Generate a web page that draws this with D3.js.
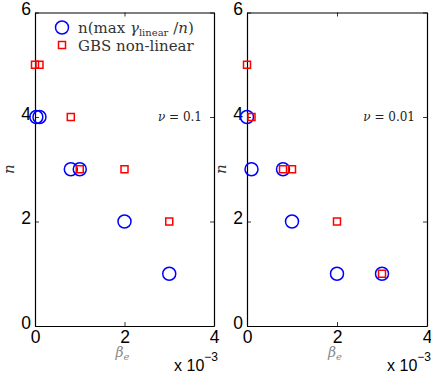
<!DOCTYPE html>
<html>
<head>
<meta charset="utf-8">
<script src="https://cdn.jsdelivr.net/npm/d3@7"></script>
<style>
  body { margin: 0; background: #fff; }
  svg { display: block; }
</style>
</head>
<body>
<div class="chart"></div>
<script>
var svgWidth = 431;
var svgHeight = 373;

// data, beta_e in units of 1e-3
var nu = ["0.1", "0.01"];
var linBeta = [[0.03, 0.1, 0.8, 1.0, 2.0, 3.0], [0.0, 0.1, 0.8, 1.0, 2.0, 3.0]];
var linN = [[4, 4, 3, 3, 2, 1], [4, 3, 3, 2, 1, 1]];
var gbsBeta = [[0.0, 0.1, 0.8, 1.0, 2.0, 3.0], [0.0, 0.1, 0.8, 1.0, 2.0, 3.0]];
var gbsN = [[5, 5, 4, 3, 3, 2], [5, 4, 3, 3, 2, 1]];
var xTicks = [0, 2, 4];
var yTicks = [0, 2, 4, 6];

var panels = [
  { left: 35, right: 214 },
  { left: 247, right: 427 }
];
var plotTop = 12.5, plotBottom = 326;

var svg = d3.select(".chart")
  .append("svg")
  .attr("width", svgWidth)
  .attr("height", svgHeight);

var sans = "'Liberation Sans', Arial, sans-serif";
var serif = "'DejaVu Serif', 'Liberation Serif', serif";
var fmt = d3.format("d");

panels.forEach(function(p, k) {
  var x = d3.scaleLinear().domain([0, 4]).range([p.left, p.right]);
  var y = d3.scaleLinear().domain([0, 6]).range([plotBottom, plotTop]);
  var g = svg.append("g");

  // axes, ticks pointing inward
  var xb = g.append("g")
    .attr("transform", "translate(0," + plotBottom + ")")
    .call(d3.axisBottom(x).tickValues(xTicks).tickFormat(fmt).tickSizeInner(-4).tickSizeOuter(0).tickPadding(5));
  var yl = g.append("g")
    .attr("transform", "translate(" + p.left + ",0)")
    .call(d3.axisLeft(y).tickValues(yTicks).tickFormat(fmt).tickSizeInner(-4).tickSizeOuter(0).tickPadding(4));
  var xt = g.append("g")
    .attr("transform", "translate(0," + plotTop + ")")
    .call(d3.axisTop(x).tickValues(xTicks).tickSizeInner(-4).tickSizeOuter(0).tickFormat(""));
  var yr = g.append("g")
    .attr("transform", "translate(" + p.right + ",0)")
    .call(d3.axisRight(y).tickValues(yTicks).tickSizeInner(-4).tickSizeOuter(0).tickFormat(""));

  [xb, yl, xt, yr].forEach(function(a) {
    a.select(".domain").attr("stroke", "#000").attr("stroke-width", 1.2);
    a.selectAll(".tick line").attr("stroke", "#000").attr("stroke-width", 0.8);
    a.selectAll("text").attr("font-family", sans).attr("font-size", 17.5).attr("fill", "#000");
  });
  yl.selectAll(".tick text").attr("dy", "0.12em");

  // circles: n(max gamma_linear / n)
  g.selectAll("circle.lin")
    .data(linBeta[k])
    .enter().append("circle")
    .attr("class", "lin")
    .attr("cx", function(d) { return x(d); })
    .attr("cy", function(d, i) { return y(linN[k][i]); })
    .attr("r", 6.5)
    .attr("fill", "none")
    .attr("stroke", "#0000ff")
    .attr("stroke-width", 1.5);

  // squares: GBS non-linear
  g.selectAll("rect.gbs")
    .data(gbsBeta[k])
    .enter().append("rect")
    .attr("class", "gbs")
    .attr("x", function(d) { return x(d) - 3.5; })
    .attr("y", function(d, i) { return y(gbsN[k][i]) - 3.5; })
    .attr("width", 7)
    .attr("height", 7)
    .attr("fill", "none")
    .attr("stroke", "#ff0000")
    .attr("stroke-width", 1.5);

  // nu annotation
  var nt = g.append("text")
    .attr("x", p.right - 12)
    .attr("y", y(4) + 4)
    .attr("text-anchor", "end")
    .attr("font-family", serif)
    .attr("font-size", 12)
    .attr("fill", "#222");
  nt.append("tspan").attr("font-style", "italic").text("ν");
  nt.append("tspan").text(" = " + nu[k]);

  // y label
  g.append("text")
    .attr("transform", "translate(" + (p.left - 21) + "," + y(3) + ") rotate(-90)")
    .attr("text-anchor", "middle")
    .attr("font-family", serif)
    .attr("font-style", "italic")
    .attr("font-size", 15)
    .attr("fill", "#333")
    .text("n");

  // x label
  var xl = g.append("text")
    .attr("x", x(2) - 2)
    .attr("y", 357)
    .attr("text-anchor", "middle")
    .attr("font-family", serif)
    .attr("font-size", 14)
    .attr("fill", "#888");
  xl.append("tspan").attr("font-style", "italic").text("β");
  xl.append("tspan").attr("font-style", "italic").attr("font-size", 10).attr("dy", 3).text("e");

  // exponent
  var ex = g.append("text")
    .attr("x", p.right + 4)
    .attr("y", 371)
    .attr("text-anchor", "end")
    .attr("font-family", sans)
    .attr("font-size", 16)
    .attr("fill", "#000");
  ex.append("tspan").text("x 10");
  ex.append("tspan").attr("font-size", 12).attr("dy", -10).text("−3");
});

// legend
var leg = svg.append("g");
leg.append("circle")
  .attr("cx", 62).attr("cy", 27.5).attr("r", 6.5)
  .attr("fill", "none").attr("stroke", "#0000ff").attr("stroke-width", 1.5);
leg.append("rect")
  .attr("x", 58.5).attr("y", 41.5).attr("width", 7).attr("height", 7)
  .attr("fill", "none").attr("stroke", "#ff0000").attr("stroke-width", 1.5);

var l1 = leg.append("text")
  .attr("x", 78).attr("y", 33)
  .attr("font-family", serif).attr("font-size", 15).attr("fill", "#333");
l1.append("tspan").text("n(max ");
l1.append("tspan").attr("font-style", "italic").text("γ");
l1.append("tspan").attr("font-size", 10).attr("dy", 3).text("linear");
l1.append("tspan").attr("dy", -3).text(" /");
l1.append("tspan").attr("font-style", "italic").text("n");
l1.append("tspan").text(")");

leg.append("text")
  .attr("x", 78).attr("y", 51)
  .attr("font-family", serif).attr("font-size", 15).attr("fill", "#333")
  .text("GBS non-linear");
</script>
</body>
</html>
